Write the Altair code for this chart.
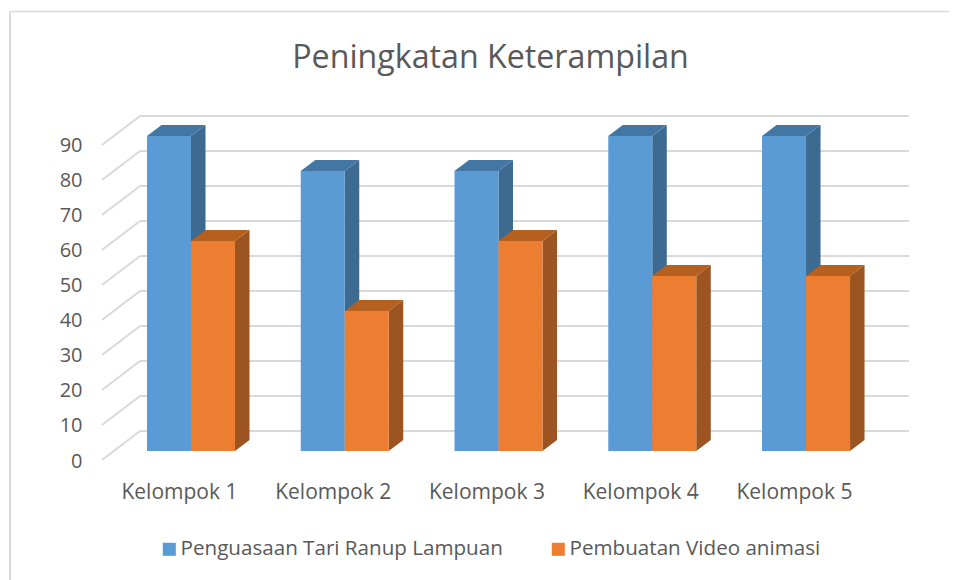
import altair as alt
import pandas as pd

categories = ["Kelompok 1", "Kelompok 2", "Kelompok 3", "Kelompok 4", "Kelompok 5"]
penguasaan = [90, 80, 80, 90, 90]
pembuatan = [60, 40, 60, 50, 50]
series_names = ["Penguasaan Tari Ranup Lampuan", "Pembuatan Video animasi"]
y_ticks = [0, 10, 20, 30, 40, 50, 60, 70, 80, 90]

FRONT = ["#5B9BD5", "#ED7D31"]
SIDE = ["#3C6A91", "#9C5520"]
TOP = ["#4476A4", "#B5601F"]
GRID = "#D9D9D9"
TEXT = "#595959"
FONT = "Open Sans"

# scale conversion: one group = 153.75 px, one value unit = 3.5 px
BAR_W = 44 / 153.75
DX = 14.5 / 153.75
DY = 11 / 3.5
WALL_X0, WALL_X1, WALL_X2 = -0.2927, -0.0455, 4.956
WALL_Y0, WALL_Y1 = -2.57, 5.71

x_scale = alt.Scale(domain=[-0.904, 5.216], range=[0, 941], nice=False, zero=False)
y_scale = alt.Scale(domain=[-36.857, 126.571], range=[572, 0], nice=False, zero=False)
X = lambda f: alt.X(f"{f}:Q", scale=x_scale, axis=None, title=None)
Y = lambda f: alt.Y(f"{f}:Q", scale=y_scale, axis=None, title=None)

fronts, sides, tops = [], [], []
for s, vals in enumerate([penguasaan, pembuatan]):
    for i, v in enumerate(vals):
        xl = i + s * BAR_W
        xr = xl + BAR_W
        key = f"{s}-{i}"
        fronts.append(dict(series=series_names[s], xl=xl, xr=xr, v=v, base=0))
        for t in (0, 1):
            sides.append(dict(s=s, key=key, x=xr + t * DX, y0=t * DY, y1=v + t * DY))
            tops.append(dict(s=s, key=key, y=v + t * DY, x0=xl + t * DX, x1=xr + t * DX))
fronts, sides, tops = pd.DataFrame(fronts), pd.DataFrame(sides), pd.DataFrame(tops)

# walls
grid_rows, diag_rows = [], []
for t in y_ticks:
    grid_rows.append(dict(v=t + WALL_Y1, x0=WALL_X1, x1=WALL_X2))
    diag_rows.append(dict(k=t, x=WALL_X0, y=t + WALL_Y0))
    diag_rows.append(dict(k=t, x=WALL_X1, y=t + WALL_Y1))
grid = alt.Chart(pd.DataFrame(grid_rows)).mark_rule(color=GRID, strokeWidth=2).encode(
    x=X("x0"), x2="x1:Q", y=Y("v"))
diag = alt.Chart(pd.DataFrame(diag_rows)).mark_line(color=GRID, strokeWidth=2).encode(
    x=X("x"), y=Y("y"), detail="k:N")

# chart frame (left and top edges only)
frame_left = alt.Chart(pd.DataFrame({"x": [-0.891], "a": [-36.857], "b": [125.57]})).mark_rule(
    color=GRID, strokeWidth=2).encode(x=X("x"), y=Y("a"), y2="b:Q")
frame_top = alt.Chart(pd.DataFrame({"y": [125.57], "a": [-0.891], "b": [5.216]})).mark_rule(
    color=GRID, strokeWidth=1.5).encode(y=Y("y"), x=X("a"), x2="b:Q")


def side_layer(s):
    return alt.Chart(sides[sides.s == s]).mark_area(color=SIDE[s], orient="vertical").encode(
        x=X("x"), y=Y("y0"), y2="y1:Q", detail="key:N")


def top_layer(s):
    return alt.Chart(tops[tops.s == s]).mark_area(color=TOP[s], orient="horizontal").encode(
        y=Y("y"), x=X("x0"), x2="x1:Q", detail="key:N")


front = alt.Chart(fronts).mark_rect().encode(
    x=X("xl"), x2="xr:Q", y=Y("base"), y2="v:Q",
    color=alt.Color("series:N", scale=alt.Scale(domain=series_names, range=FRONT), title=None,
                    legend=alt.Legend(orient="none", legendX=151, legendY=531, direction="horizontal",
                                      symbolType="square", symbolSize=170, symbolStrokeWidth=0,
                                      labelFont=FONT, labelFontSize=20.6, labelColor=TEXT,
                                      labelLimit=400, columnPadding=45, labelOffset=1,
                                      gridAlign="none", title=None)),
)

axis_layer = alt.Chart(pd.DataFrame({"v": y_ticks})).mark_point(opacity=0).encode(
    x=alt.value(0),
    y=alt.Y("v:Q", scale=y_scale, title=None,
            axis=alt.Axis(values=y_ticks, grid=False, domain=False, ticks=False, orient="left",
                          offset=-74, labelPadding=0, labelOffset=10, labelFont=FONT, labelFontSize=20,
                          labelColor=TEXT, labelAlign="right", format="d")),
)

cat_df = pd.DataFrame({"name": categories, "x": [i + 0.211 for i in range(5)], "y": [-11.9] * 5})
cat_labels = alt.Chart(cat_df).mark_text(font=FONT, fontSize=21, color=TEXT, align="center",
                                         baseline="middle").encode(
    x=X("x"), y=Y("y"), text="name:N")

chart = alt.layer(
    frame_left, frame_top, grid, diag,
    side_layer(0), top_layer(0), side_layer(1), top_layer(1),
    front, axis_layer, cat_labels,
).resolve_axis(y="independent").properties(
    width=941, height=572, padding=0,
    autosize=alt.AutoSizeParams(type="none"),
    title=alt.TitleParams("Peningkatan Keterampilan", font=FONT, fontSize=32.2, fontWeight="normal",
                          color=TEXT, anchor="middle", offset=-67, dx=12),
).configure_view(stroke=None)

chart.save("out.html", embed_options={"renderer": "svg", "actions": False})
